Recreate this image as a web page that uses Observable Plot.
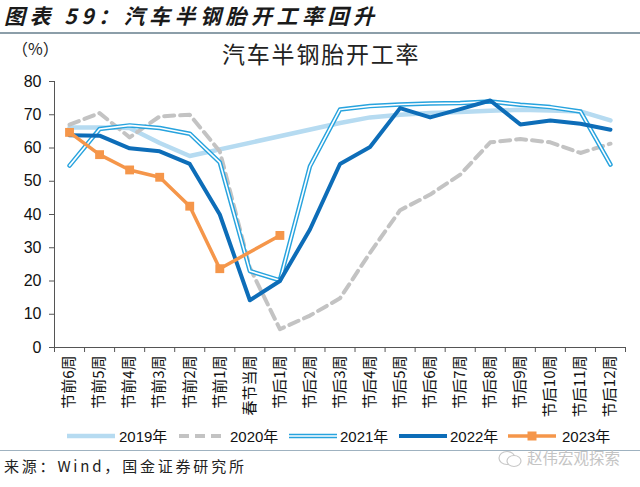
<!DOCTYPE html>
<html><head><meta charset="utf-8">
<script src="https://cdn.jsdelivr.net/npm/d3@7"></script>
<script src="https://cdn.jsdelivr.net/npm/@observablehq/plot@0.6"></script>
<style>
body{margin:0;background:#fff;font-family:"Noto Sans CJK SC",sans-serif;}
#wrap{position:relative;width:640px;height:487px;overflow:hidden;background:#fff;}
.abs{position:absolute;white-space:nowrap;}
</style></head><body><div id="wrap">
<div class="abs" style="left:4px;top:0px;font-size:21px;letter-spacing:4.5px;font-weight:bold;font-style:italic;color:#1a1a1a;">图表 59：汽车半钢胎开工率回升</div>
<div class="abs" style="left:0;top:32px;width:640px;height:2px;background:#8c9ea9;"></div>
<div class="abs" style="left:12px;top:36px;font-size:16px;color:#222;">（%）</div>
<div class="abs" style="left:222px;top:36px;font-size:23px;letter-spacing:1.8px;color:#222;">汽车半钢胎开工率</div>
<div id="chart" class="abs" style="left:0;top:60px;"></div>
<svg id="legend" class="abs" style="left:0;top:426px" width="640" height="20"></svg>
<div class="abs" style="left:0;top:450px;width:640px;height:1px;background:#9fb2c0;"></div>
<div class="abs" style="left:4px;top:455px;font-size:15px;color:#222;letter-spacing:2.8px">来源：Wind，国金证券研究所</div>
<svg class="abs" style="left:497px;top:449px" width="28" height="20">
  <ellipse cx="10" cy="9" rx="8" ry="6.5" fill="none" stroke="#c8c8c8" stroke-width="1.2"/>
  <ellipse cx="17" cy="12" rx="7" ry="5.5" fill="#fff" stroke="#c8c8c8" stroke-width="1.2"/>
</svg>
<div class="abs" style="left:527px;top:446px;font-size:15.5px;color:#c4c4c4;">赵伟宏观探索</div>
</div>
<script>
const cats = ["节前6周","节前5周","节前4周","节前3周","节前2周","节前1周","春节当周","节后1周","节后2周","节后3周","节后4周","节后5周","节后6周","节后7周","节后8周","节后9周","节后10周","节后11周","节后12周"];
const yTicks = [0,10,20,30,40,50,60,70,80];
const seriesNames = ["2019年","2020年","2021年","2022年","2023年"];
const y2019 = [66.2,66.2,66.0,61.5,57.6,null,null,null,null,67.5,69.2,70.0,70.5,70.8,71.2,71.5,71.3,71.0,68.3];
const y2020 = [67.0,70.5,63.2,69.5,70.0,59.0,24.0,5.5,9.6,14.8,28.5,41.3,46.0,52.0,61.7,62.7,61.7,58.5,61.3];
const y2021 = [54.7,65.7,66.8,66.0,64.3,55.7,23.0,20.2,54.5,71.6,72.6,73.1,73.4,73.5,74.0,73.0,72.3,71.0,55.0];
const y2022 = [63.8,63.7,59.9,59.0,55.2,40.0,14.2,20.0,35.5,55.2,60.3,72.0,69.2,71.7,74.3,67.1,68.3,67.3,65.5];
const y2023 = [64.7,58.0,53.4,51.2,42.5,23.7,null,33.7,null,null,null,null,null,null,null,null,null,null,null];

const C19="#b6dbf1", C20="#c3c3c3", C21="#27a3de", C22="#0d6db8", C23="#f5964a";
const pts = arr => arr.map((v,i)=>({i, v})).filter(d=>d.v!=null);
const idx = cats.map((c,i)=>i);
const xDomain = [-0.5, cats.length-0.5];
const bounds = d3.range(cats.length+1).map(i=>i-0.5);

const plot = Plot.plot({
  width:640, height:380,
  marginLeft:54, marginRight:15, marginTop:21, marginBottom:93,
  x:{type:"linear", domain:xDomain, label:null},
  y:{domain:[0,80], label:null},
  style:{fontFamily:"'Liberation Sans', Arial, 'Noto Sans CJK SC', sans-serif", color:"#111", background:"transparent"},
  marks:[
    Plot.axisY(yTicks, {tickSize:5, tickPadding:8, fontSize:16, stroke:"#555", label:null}),
    Plot.axisX(bounds, {tickSize:5, tickFormat:()=>"", stroke:"#555", label:null}),
    Plot.axisX(idx, {tickSize:0, tickPadding:8, tickRotate:-90, tickFormat:i=>cats[i], fontSize:15, label:null, fontFamily:"'Noto Sans CJK SC', sans-serif"}),
    Plot.ruleX([xDomain[0]], {stroke:"#555"}),
    Plot.ruleY([0], {stroke:"#555"}),
    Plot.line(pts(y2019), {x:"i", y:"v", stroke:C19, strokeWidth:4.5}),
    Plot.line(pts(y2020), {x:"i", y:"v", stroke:C20, strokeWidth:4, strokeDasharray:"10,6"}),
    Plot.line(pts(y2021), {x:"i", y:"v", stroke:C21, strokeWidth:4.5}),
    Plot.line(pts(y2021), {x:"i", y:"v", stroke:"#fff", strokeWidth:1.6}),
    Plot.line(pts(y2022), {x:"i", y:"v", stroke:C22, strokeWidth:4}),
    Plot.line(pts(y2023), {x:"i", y:"v", stroke:C23, strokeWidth:3.5}),
    Plot.dot(pts(y2023), {x:"i", y:"v", symbol:"square", r:5, fill:C23})
  ]
});
document.getElementById("chart").appendChild(plot);

// legend
const lg = d3.select("#legend");
const sx = [67,179,289,399,508], tx = [119,230,340,450,562];
const styles = [
  {stroke:C19,w:4.5},{stroke:C20,w:4,dash:"10,6"},{stroke:C21,w:4.5,inner:true},{stroke:C22,w:4},{stroke:C23,w:3.5,marker:true}
];
seriesNames.forEach((n,k)=>{
  const s = styles[k];
  lg.append("line").attr("x1",sx[k]).attr("x2",sx[k]+48).attr("y1",10).attr("y2",10)
    .attr("stroke",s.stroke).attr("stroke-width",s.w).attr("stroke-dasharray",s.dash||null);
  if(s.inner) lg.append("line").attr("x1",sx[k]).attr("x2",sx[k]+48).attr("y1",10).attr("y2",10).attr("stroke","#fff").attr("stroke-width",1.6);
  if(s.marker) lg.append("rect").attr("x",sx[k]+24-4.5).attr("y",10-4.5).attr("width",9).attr("height",9).attr("fill",s.stroke);
  lg.append("text").attr("x",tx[k]).attr("y",15.5).attr("font-size",15).attr("fill","#111")
    .attr("font-family","'Liberation Sans', Arial, 'Noto Sans CJK SC', sans-serif").text(n);
});
</script>
</body></html>
